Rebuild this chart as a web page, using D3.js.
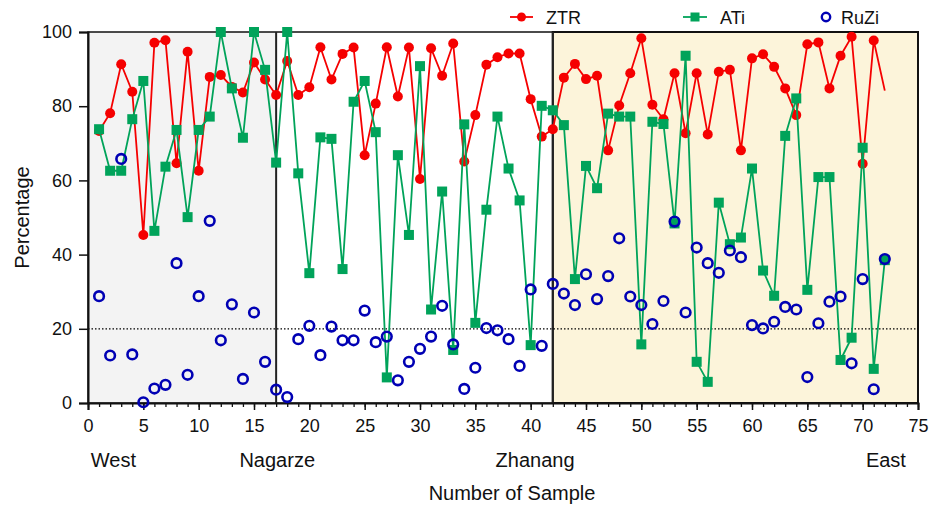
<!DOCTYPE html>
<html>
<head>
<meta charset="utf-8">
<script src="https://cdn.jsdelivr.net/npm/d3@7"></script>
<style>
  body { margin: 0; background: #fff; }
  svg text { font-family: "Liberation Sans", Arial, Helvetica, sans-serif; fill: #111; }
</style>
</head>
<body>
<div id="chart"></div>
<script>
// sample numbers 1..72
var samples = d3.range(1, 73);

var ztr = [73.3, 78.1, 91.3, 83.9, 45.3, 97.1, 97.8, 64.6, 94.7, 62.6,
  87.9, 88.4, 85.2, 83.7, 91.8, 87.2, 83.0, 92.2, 83.0, 85.1,
  95.9, 87.2, 94.1, 95.8, 66.8, 80.7, 95.9, 82.6, 95.8, 60.4,
  95.6, 88.2, 96.9, 65.1, 77.6, 91.2, 93.2, 94.2, 94.2, 81.9,
  71.8, 73.8, 87.7, 91.4, 87.3, 88.2, 68.1, 80.2, 88.9, 98.3,
  80.4, 76.5, 88.9, 72.7, 88.9, 72.4, 89.3, 89.8, 68.1, 92.9,
  94.0, 90.6, 84.8, 77.6, 96.7, 97.2, 84.8, 93.6, 98.7, 64.5,
  97.7, 84.2];

var ati = [73.8, 62.6, 62.6, 76.5, 86.8, 46.4, 63.7, 73.6, 50.1, 73.6,
  77.2, 100, 84.8, 71.5, 100, 89.8, 64.8, 100, 61.9, 35.0,
  71.6, 71.2, 36.1, 81.2, 86.8, 73.0, 6.9, 66.8, 45.3, 90.8,
  25.2, 57.0, 14.3, 75.1, 21.6, 52.1, 77.2, 63.2, 54.6, 15.6,
  80.1, 78.9, 74.9, 33.4, 63.9, 57.9, 78.0, 77.2, 77.2, 15.8,
  75.8, 75.2, 48.4, 93.6, 11.1, 5.7, 54.0, 42.8, 44.6, 63.2,
  35.7, 28.9, 72.0, 82.1, 30.5, 60.9, 60.9, 11.6, 17.6, 68.8,
  9.2, 38.5];

var ruzi = [28.8, 12.8, 65.8, 13.1, 0.2, 3.9, 4.9, 37.7, 7.6, 28.8,
  49.1, 16.9, 26.6, 6.5, 24.4, 11.1, 3.6, 1.6, 17.2, 20.8,
  12.9, 20.6, 16.9, 16.9, 24.9, 16.4, 17.9, 6.1, 11.1, 14.6,
  17.9, 26.2, 15.8, 3.8, 9.5, 20.2, 19.6, 17.2, 10.0, 30.6,
  15.4, 32.1, 29.5, 26.4, 34.7, 28.0, 34.2, 44.4, 28.7, 26.4,
  21.3, 27.5, 48.9, 24.4, 41.9, 37.7, 35.1, 41.1, 39.3, 21.0,
  20.1, 21.9, 25.9, 25.2, 7.0, 21.5, 27.3, 28.7, 10.7, 33.4,
  3.7, 38.8];

// regions along the transect (sample boundaries)
var regionBreaks = [0, 17, 42, 75];
var regionNames = ["West", "Nagarze", "Zhanang", "East"];
var seriesNames = ["ZTR", "ATi", "RuZi"];
var xTicks = d3.range(0, 76, 5);
var yTicks = [0, 20, 40, 60, 80, 100];
var refLine = 20;

var W = 931, H = 507;
var margin = {top: 32, right: 13, bottom: 104, left: 88};
var iw = W - margin.left - margin.right,
    ih = H - margin.top - margin.bottom;

var red = "#f50000", green = "#00a35a", blue = "#0000b4";
var regionFill = ["#f3f3f3", "#ffffff", "#fcf4da"];

var svg = d3.select("#chart").append("svg")
  .attr("width", W).attr("height", H);
var g = svg.append("g")
  .attr("transform", "translate(" + margin.left + "," + margin.top + ")");

var x = d3.scaleLinear().domain([0, 75]).range([0, iw]);
var y = d3.scaleLinear().domain([0, 100]).range([ih, 0]);

// region backgrounds
g.selectAll("rect.region")
  .data(d3.range(regionBreaks.length - 1))
  .enter().append("rect")
  .attr("class", "region")
  .attr("x", function(i) { return x(regionBreaks[i]); })
  .attr("y", 0)
  .attr("width", function(i) { return x(regionBreaks[i + 1]) - x(regionBreaks[i]); })
  .attr("height", ih)
  .attr("fill", function(i) { return regionFill[i]; });

// frame
g.append("rect")
  .attr("x", 0).attr("y", 0).attr("width", iw).attr("height", ih)
  .attr("fill", "none").attr("stroke", "#111").attr("stroke-width", 1.5);
// thicker border round the east block
g.append("rect")
  .attr("x", x(regionBreaks[2])).attr("y", 0)
  .attr("width", x(75) - x(regionBreaks[2])).attr("height", ih)
  .attr("fill", "none").attr("stroke", "#111").attr("stroke-width", 2);

// region separators
g.selectAll("line.sep")
  .data(regionBreaks.slice(1, 3))
  .enter().append("line")
  .attr("x1", function(d) { return x(d); }).attr("x2", function(d) { return x(d); })
  .attr("y1", 0).attr("y2", ih)
  .attr("stroke", "#222").attr("stroke-width", 2);

// dotted 20% line
g.append("line")
  .attr("x1", 0).attr("x2", iw)
  .attr("y1", y(refLine)).attr("y2", y(refLine))
  .attr("stroke", "#000").attr("stroke-width", 1.3)
  .attr("stroke-dasharray", "1.5,2");

// axes
var xMinor = g.append("g")
  .attr("transform", "translate(0," + ih + ")")
  .call(d3.axisBottom(x).tickValues(d3.range(0, 76, 1)).tickSize(4).tickFormat(""));
xMinor.select(".domain").remove();
xMinor.selectAll("line").attr("stroke", "#111").attr("stroke-width", 1.3);

var xAxis = g.append("g")
  .attr("transform", "translate(0," + ih + ")")
  .call(d3.axisBottom(x).tickValues(xTicks).tickSize(7).tickPadding(9));
xAxis.select(".domain").attr("stroke", "#111").attr("stroke-width", 2);
xAxis.selectAll("line").attr("stroke", "#111").attr("stroke-width", 1.5);
xAxis.selectAll("text").attr("font-size", 18);

var yAxis = g.append("g")
  .call(d3.axisLeft(y).tickValues(yTicks).tickSize(9).tickPadding(7));
yAxis.select(".domain").attr("stroke", "#111").attr("stroke-width", 2);
yAxis.selectAll("line").attr("stroke", "#111").attr("stroke-width", 1.5);
yAxis.selectAll("text").attr("font-size", 18);

// region labels under the axis
var regionLabelAt = [2.3, 17.1, 40.4, 72.1];
g.selectAll("text.rname")
  .data(regionNames)
  .enter().append("text")
  .attr("class", "rname")
  .attr("x", function(d, i) { return x(regionLabelAt[i]); })
  .attr("y", ih + 64)
  .attr("text-anchor", "middle")
  .attr("font-size", 20)
  .text(function(d) { return d; });

// axis titles
g.append("text")
  .attr("x", iw / 2 + 9).attr("y", ih + 97)
  .attr("text-anchor", "middle").attr("font-size", 20)
  .text("Number of Sample");
svg.append("text")
  .attr("transform", "translate(29," + (margin.top + ih / 2) + ") rotate(-90)")
  .attr("text-anchor", "middle").attr("font-size", 20)
  .text("Percentage");

// series
var line = d3.line()
  .x(function(d, i) { return x(samples[i]); })
  .y(function(d) { return y(d); });

g.append("path").datum(ztr)
  .attr("d", line).attr("fill", "none")
  .attr("stroke", red).attr("stroke-width", 1.8);
g.selectAll("circle.ztr")
  .data(ztr.slice(0, ztr.length - 1))
  .enter().append("circle")
  .attr("class", "ztr")
  .attr("cx", function(d, i) { return x(samples[i]); })
  .attr("cy", function(d) { return y(d); })
  .attr("r", 5)
  .attr("fill", red);

g.append("path").datum(ati)
  .attr("d", line).attr("fill", "none")
  .attr("stroke", green).attr("stroke-width", 1.8);
g.selectAll("rect.ati")
  .data(ati)
  .enter().append("rect")
  .attr("class", "ati")
  .attr("x", function(d, i) { return x(samples[i]) - 5; })
  .attr("y", function(d) { return y(d) - 5; })
  .attr("width", 10).attr("height", 10)
  .attr("fill", green);

g.selectAll("circle.ruzi")
  .data(ruzi)
  .enter().append("circle")
  .attr("class", "ruzi")
  .attr("cx", function(d, i) { return x(samples[i]); })
  .attr("cy", function(d) { return y(d); })
  .attr("r", 4.8)
  .attr("fill", "none")
  .attr("stroke", blue).attr("stroke-width", 2.6);

// legend
var legendX = [510, 683, 826];
var leg = svg.append("g").attr("transform", "translate(0,17)");
leg.append("line").attr("x1", legendX[0]).attr("x2", legendX[0] + 23)
  .attr("stroke", red).attr("stroke-width", 1.8);
leg.append("circle").attr("cx", legendX[0] + 11.5).attr("r", 4.5).attr("fill", red);
leg.append("line").attr("x1", legendX[1]).attr("x2", legendX[1] + 24)
  .attr("stroke", green).attr("stroke-width", 1.8);
leg.append("rect").attr("x", legendX[1] + 7.5).attr("y", -4.5)
  .attr("width", 9).attr("height", 9).attr("fill", green);
leg.append("circle").attr("cx", legendX[2]).attr("r", 4.2)
  .attr("fill", "none").attr("stroke", blue).attr("stroke-width", 2.4);
var legTextX = [546, 720, 841];
leg.selectAll("text")
  .data(seriesNames)
  .enter().append("text")
  .attr("x", function(d, i) { return legTextX[i]; })
  .attr("y", 6.5)
  .attr("font-size", 18)
  .text(function(d) { return d; });
</script>
</body>
</html>
